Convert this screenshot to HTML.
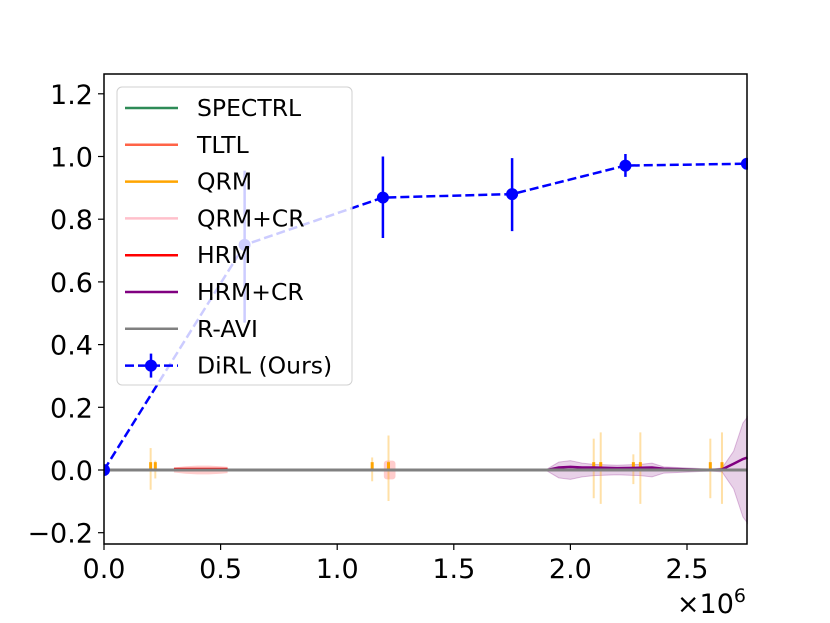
<!DOCTYPE html>
<html><head><meta charset="utf-8">
<style>
html,body{margin:0;padding:0;background:#fff;}
svg{display:block;font-family:"DejaVu Sans","Liberation Sans",sans-serif;}
</style></head>
<body>
<svg id="chart" width="830" height="623" viewBox="0 0 830 623">
<rect width="830" height="623" fill="#fff"/>
<g id="plot"></g>
<g id="axes"></g>
<g id="legend"></g>
</svg>
<script>
const xTicks=[0,0.5,1.0,1.5,2.0,2.5];
const xTickLabels=["0.0","0.5","1.0","1.5","2.0","2.5"];
const yTicks=[-0.2,0,0.2,0.4,0.6,0.8,1.0,1.2];
const yTickLabels=["\u22120.2","0.0","0.2","0.4","0.6","0.8","1.0","1.2"];
const dirlX=[0,0.603,1.196,1.75,2.236,2.757];
const dirlY=[0,0.718,0.869,0.88,0.971,0.977];
const dirlLo=[0,0.47,0.74,0.762,0.935,0.977];
const dirlHi=[0,0.955,1.0,0.995,1.008,0.977];
const orangeSpikeX=[0.2,0.22,1.15,1.22,2.1,2.13,2.27,2.3,2.6,2.65];
const orangeSpikeH=[0.07,0.03,0.04,0.11,0.1,0.12,0.05,0.12,0.1,0.12];
const purpleBandX=[1.9,1.95,2.0,2.05,2.1,2.2,2.3,2.35,2.4,2.6,2.65,2.7,2.74,2.76];
const purpleBandH=[0.003,0.025,0.03,0.022,0.018,0.015,0.018,0.022,0.01,0.003,0.006,0.06,0.15,0.17];
const purpleMeanY=[0,0.008,0.01,0.008,0.008,0.006,0.007,0.008,0.004,0,0.002,0.02,0.035,0.04];
const redBandX=[0.3,0.35,0.4,0.45,0.5,0.53];
const redBandH=[0.008,0.012,0.014,0.014,0.012,0.01];
const legendNames=["SPECTRL","TLTL","QRM","QRM+CR","HRM","HRM+CR","R-AVI","DiRL (Ours)"];
const legendColors=["#2e8b57","#ff6347","#ffa500","#ffc0cb","#ff0000","#800080","#808080","#0000ff"];

const L=104,R=747,T=74,B=544;
const sx=v=>L+v*233.2;
const sy=v=>470-v*313.5;
const NS="http://www.w3.org/2000/svg";
function mk(parent,tag,attrs){const e=document.createElementNS(NS,tag);for(const k in attrs)e.setAttribute(k,attrs[k]);parent.appendChild(e);return e;}
const plot=document.getElementById('plot'),axes=document.getElementById('axes'),leg=document.getElementById('legend');

let pts=redBandX.map((x,i)=>sx(x)+","+sy(redBandH[i])).concat(redBandX.slice().reverse().map((x,i)=>sx(x)+","+sy(-redBandH[redBandX.length-1-i])));
let e=mk(plot,'polygon',{points:pts.join(" "),fill:"#ff0000","fill-opacity":0.2});

e=mk(plot,'rect',{x:sx(1.2),y:sy(0.03),width:sx(1.25)-sx(1.2),height:sy(-0.03)-sy(0.03),fill:"#ff0000","fill-opacity":0.2,rx:3});

pts=purpleBandX.map((x,i)=>sx(x)+","+sy(purpleBandH[i])).concat(purpleBandX.slice().reverse().map((x,i)=>sx(x)+","+sy(-purpleBandH[purpleBandX.length-1-i])));
e=mk(plot,'polygon',{points:pts.join(" "),fill:"#800080","fill-opacity":0.18,stroke:"#800080","stroke-opacity":0.25});

orangeSpikeX.forEach((x,i)=>{
 const s=mk(plot,'line',{x1:sx(x),x2:sx(x),y1:sy(orangeSpikeH[i]),y2:sy(-orangeSpikeH[i]*0.9),stroke:"#ffa500","stroke-opacity":0.35,"stroke-width":2});
 
 const m=mk(plot,'line',{x1:sx(x),x2:sx(x),y1:sy(0.025),y2:sy(0),stroke:"#ffa500","stroke-width":3});
 
});
e=mk(plot,'line',{x1:sx(0.3),x2:sx(0.53),y1:sy(0.004),y2:sy(0.004),stroke:"#ff0000","stroke-width":2});

e=mk(plot,'polyline',{points:purpleBandX.map((x,i)=>sx(x)+","+sy(purpleMeanY[i])).join(" "),fill:"none",stroke:"#800080","stroke-width":2.5});

e=mk(plot,'line',{x1:L,x2:R,y1:sy(0),y2:sy(0),stroke:"#808080","stroke-width":3});

dirlX.forEach((x,i)=>{const b=mk(plot,'line',{x1:sx(x),x2:sx(x),y1:sy(dirlLo[i]),y2:sy(dirlHi[i]),stroke:"#0000ff","stroke-width":2.5});
 });
e=mk(plot,'polyline',{points:dirlX.map((x,i)=>sx(x)+","+sy(dirlY[i])).join(" "),fill:"none",stroke:"#0000ff","stroke-width":2.5,"stroke-dasharray":"9,4"});

dirlX.forEach((x,i)=>{const c=mk(plot,'circle',{cx:sx(x),cy:sy(dirlY[i]),r:6,fill:"#0000ff"});
 });

e=mk(axes,'rect',{x:R+1,y:0,width:100,height:623,fill:"#fff"});

e=mk(axes,'rect',{x:0,y:0,width:L,height:623,fill:"#fff"});

e=mk(axes,'rect',{x:L,y:T,width:R-L,height:B-T,fill:"none",stroke:"#000","stroke-width":1.5});

xTicks.forEach((v,i)=>{
 const t=mk(axes,'line',{x1:sx(v),x2:sx(v),y1:B,y2:B+6,stroke:"#000","stroke-width":1.2});
 
 const tx=mk(axes,'text',{x:sx(v),y:B+34,"text-anchor":"middle","font-size":27});tx.textContent=xTickLabels[i];
 
});
yTicks.forEach((v,i)=>{
 const t=mk(axes,'line',{x1:L-6,x2:L,y1:sy(v),y2:sy(v),stroke:"#000","stroke-width":1.2});
 
 const tx=mk(axes,'text',{x:L-11,y:sy(v)+10,"text-anchor":"end","font-size":27});tx.textContent=yTickLabels[i];
 
});
e=mk(axes,'text',{x:746,y:613,"text-anchor":"end","font-size":27});
e.innerHTML='×10<tspan dy="-11" font-size="19">6</tspan>';


e=mk(leg,'rect',{x:117,y:87,width:235,height:298,rx:5,fill:"#fff","fill-opacity":0.8,stroke:"#d0d0d0","stroke-width":1});

legendNames.forEach((n,i)=>{
 const y=108+i*36.8;
 const g=mk(leg,'g',{});
 
 if(i<7){mk(g,'line',{x1:125,x2:178,y1:y,y2:y,stroke:legendColors[i],"stroke-width":2.5});}
 else{mk(g,'line',{x1:125,x2:178,y1:y,y2:y,stroke:legendColors[i],"stroke-width":2.5,"stroke-dasharray":"9,4"});
  mk(g,'line',{x1:151,x2:151,y1:y-12,y2:y+12,stroke:legendColors[i],"stroke-width":2.5});
  mk(g,'circle',{cx:151,cy:y,r:6,fill:legendColors[i]});}
 const t=mk(g,'text',{x:197,y:y+8,"font-size":23.5});t.textContent=n;
});
</script>
</body></html>
